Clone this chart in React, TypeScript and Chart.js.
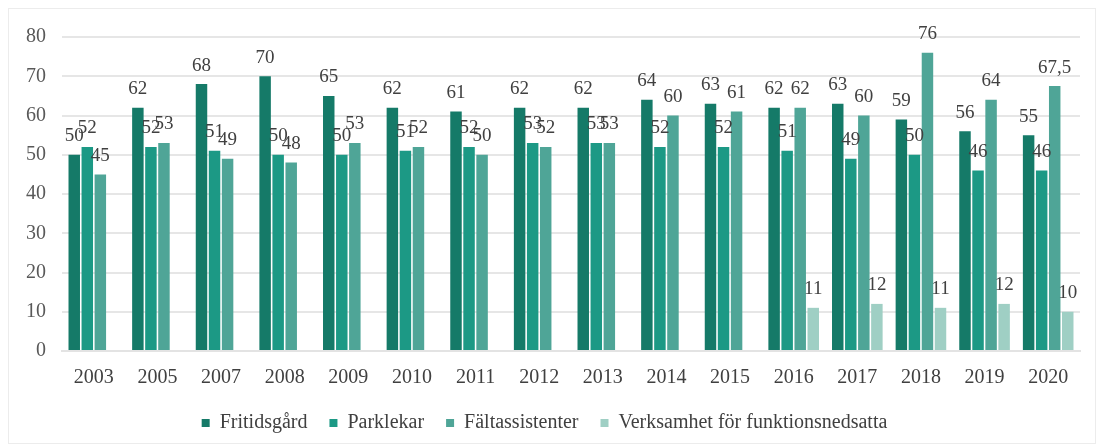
import React, { useEffect, useRef } from "react";
import { Chart, registerables } from "chart.js";

Chart.register(...registerables);

const years = ["2003", "2005", "2007", "2008", "2009", "2010", "2011", "2012", "2013", "2014", "2015", "2016", "2017", "2018", "2019", "2020"];
const fritidsgard = [50, 62, 68, 70, 65, 62, 61, 62, 62, 64, 63, 62, 63, 59, 56, 55];
const parklekar = [52, 52, 51, 50, 50, 51, 52, 53, 53, 52, 52, 51, 49, 50, 46, 46];
const faltassistenter = [45, 53, 49, 48, 53, 52, 50, 52, 53, 60, 61, 62, 60, 76, 64, 67.5];
const funktionsnedsatta = [null, null, null, null, null, null, null, null, null, null, null, 11, 12, 11, 12, 10];
const seriesNames = ["Fritidsgård", "Parklekar", "Fältassistenter", "Verksamhet för funktionsnedsatta"];
const seriesColors = ["#157a68", "#1c9985", "#4fa597", "#9fcfc4"];

const FONT = "'Liberation Serif', 'Times New Roman', serif";

const labelPlugin = {
  id: "barLabels",
  afterDatasetsDraw(chart: any) {
    const ctx = chart.ctx;
    ctx.save();
    ctx.font = `19px ${FONT}`;
    ctx.fillStyle = "#404040";
    ctx.textAlign = "center";
    ctx.textBaseline = "bottom";
    chart.data.datasets.forEach((ds: any, i: number) => {
      const meta = chart.getDatasetMeta(i);
      meta.data.forEach((bar: any, j: number) => {
        const v = ds.data[j];
        if (v === null || v === undefined) return;
        ctx.fillText(String(v).replace(".", ","), bar.x, bar.y - 9);
      });
    });
    ctx.restore();
  },
};

export default function App() {
  const ref = useRef<HTMLCanvasElement>(null);
  useEffect(() => {
    if (!ref.current) return;
    const data = [fritidsgard, parklekar, faltassistenter, funktionsnedsatta];
    const chart = new Chart(ref.current, {
      type: "bar",
      data: {
        labels: years,
        datasets: data.map((d, i) => ({
          label: seriesNames[i],
          data: d as any,
          backgroundColor: seriesColors[i],
          borderWidth: 0,
          categoryPercentage: 0.82,
          barPercentage: 0.88,
        })),
      },
      options: {
        animation: false,
        responsive: false,
        maintainAspectRatio: false,
        layout: { padding: { left: 0, right: 15, top: 24, bottom: 0 } },
        plugins: {
          tooltip: { enabled: false },
          legend: {
            position: "bottom",
            labels: {
              font: { family: FONT, size: 20 },
              color: "#404040",
              boxWidth: 8,
              boxHeight: 8,
              padding: 22,
            },
          },
        },
        scales: {
          x: {
            grid: { display: false, drawTicks: false },
            border: { display: true, color: "#e3e3e3", width: 2 },
            ticks: { font: { family: FONT, size: 20 }, color: "#404040", padding: 15 },
            afterFit(scale: any) {
              scale.height = 40;
            },
          },
          y: {
            min: 0,
            max: 80,
            ticks: { stepSize: 10, font: { family: FONT, size: 20 }, color: "#595959", padding: 16 },
            grid: { color: "#e6e6e6", drawTicks: false, lineWidth: 2 },
            border: { display: false },
            afterFit(scale: any) {
              scale.width = 53;
            },
          },
        },
      },
      plugins: [labelPlugin],
    });
    return () => chart.destroy();
  }, []);
  return (
    <div style={{ width: 1088, height: 436, border: "1px solid #ececec", boxSizing: "border-box", background: "#fff" }}>
      <canvas ref={ref} width={1086} height={434} style={{ display: "block" }} />
    </div>
  );
}
